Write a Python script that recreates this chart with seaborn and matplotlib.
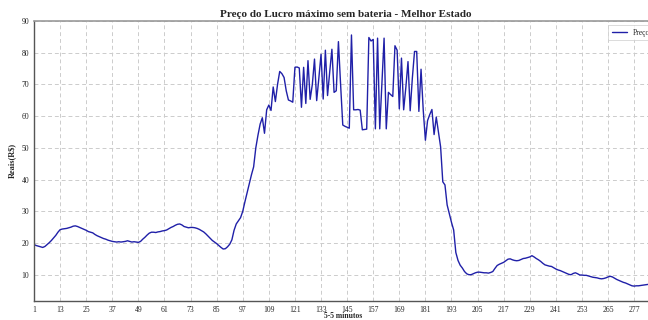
import pandas as pd
import matplotlib
matplotlib.use("Agg")
import matplotlib.pyplot as plt
import seaborn as sns

# Preço por intervalo de 5 minutos (288 intervalos no dia)
preco = [
    19.5, 19.2, 19.0, 18.8, 18.6, 18.9, 19.5, 20.1, 20.8, 21.6, 22.4, 23.4,
    24.2, 24.4, 24.5, 24.6, 24.8, 25.0, 25.3, 25.4, 25.2, 24.9, 24.6, 24.3,
    24.0, 23.6, 23.4, 23.2, 22.7, 22.3, 22.0, 21.7, 21.4, 21.2, 20.9, 20.7,
    20.5, 20.4, 20.3, 20.4, 20.3, 20.4, 20.5, 20.7, 20.5, 20.3, 20.4, 20.3,
    20.2, 20.5, 21.2, 21.8, 22.5, 23.1, 23.4, 23.4, 23.3, 23.5, 23.6, 23.8,
    23.9, 24.1, 24.5, 24.9, 25.2, 25.6, 25.9, 26.0, 25.7, 25.2, 25.0, 24.8,
    24.9, 24.9, 24.8, 24.6, 24.3, 23.9, 23.5, 22.9, 22.2, 21.5, 20.8, 20.3,
    19.8, 19.2, 18.6, 18.1, 18.2, 18.8, 19.6, 21.0, 24.0, 26.0, 27.0, 28.0,
    30.0, 33.0, 35.8, 38.5, 41.5, 44.0, 50.0, 54.0, 57.5, 59.5, 54.6, 62.0,
    63.5, 61.8, 69.2, 64.6, 70.0, 74.1, 73.4, 72.2, 68.0, 65.1, 64.8, 64.4,
    75.4, 75.5, 75.2, 62.8, 75.4, 64.0, 77.5, 65.3, 70.0, 78.0, 64.9, 72.0,
    79.5, 65.4, 80.8, 66.5, 74.0, 81.1, 67.5, 68.0, 83.5, 70.0, 57.2, 56.8,
    56.5, 56.2, 85.6, 62.0, 62.0, 62.1, 61.9, 55.7, 55.8, 55.9, 84.8, 83.7,
    84.2, 56.0, 84.6, 56.0, 70.0, 84.6, 56.0, 67.5, 66.8, 66.2, 82.2, 80.8,
    62.3, 78.3, 62.0, 69.0, 77.2, 61.7, 72.0, 80.4, 80.4, 61.5, 74.8, 62.0,
    52.4, 58.6, 60.5, 62.1, 54.2, 59.7, 55.0, 50.3, 39.3, 38.3, 32.0, 29.3,
    26.5, 24.1, 17.0, 14.5, 13.0, 12.1, 11.0, 10.3, 10.0, 10.0, 10.3, 10.6,
    10.8, 10.8, 10.7, 10.6, 10.6, 10.5, 10.7, 11.0, 12.0, 12.9, 13.3, 13.6,
    13.9, 14.4, 14.9, 15.0, 14.7, 14.5, 14.4, 14.5, 14.8, 15.1, 15.2, 15.4,
    15.6, 16.0, 15.6, 15.1, 14.7, 14.2, 13.6, 13.1, 12.9, 12.7, 12.6, 12.2,
    11.8, 11.5, 11.3, 11.0, 10.7, 10.4, 10.1, 10.0, 10.4, 10.6, 10.3, 9.9,
    9.9, 9.8, 9.8, 9.6, 9.4, 9.2, 9.1, 9.0, 8.8, 8.7, 8.8, 9.0,
    9.3, 9.5, 9.3, 8.9, 8.5, 8.2, 7.9, 7.6, 7.4, 7.1, 6.8, 6.5,
    6.4, 6.5, 6.5, 6.6, 6.7, 6.8, 6.9, 7.0, 7.1, 7.2, 7.3, 7.4,
]
intervalos = list(range(1, len(preco) + 1))
xticks = list(range(1, 289, 12))
yticks = [10, 20, 30, 40, 50, 60, 70, 80, 90]

df = pd.DataFrame({"intervalo": intervalos, "Preço": preco})

sns.set_style("white")
plt.rcParams["font.family"] = ["Liberation Serif", "DejaVu Serif"]

fig = plt.figure(figsize=(6.48, 3.2), dpi=100)
# eixo passa da borda direita (no original o gráfico aparece cortado)
ax = fig.add_axes([0.0525, 0.0603, 0.963, 0.874])

sns.lineplot(data=df, x="intervalo", y="Preço", color="#2020a8", linewidth=1.0,
             label="Preço", ax=ax)

ax.set_xlim(1, 288)
ax.set_ylim(1.8, 90)
ax.set_xticks(xticks)
ax.set_yticks(yticks)
ax.grid(True, linestyle=(0, (4, 3)), color="#cccccc", linewidth=0.7)
ax.tick_params(axis="both", labelsize=5.5, length=2.0, width=1.0, pad=1.5,
               color="#333333")

for side in ["left", "bottom"]:
    ax.spines[side].set_color("#555555")
    ax.spines[side].set_linewidth(1.0)
ax.spines["top"].set_color("#999999")
ax.spines["top"].set_linewidth(1.2)

ax.set_title("Preço do Lucro máximo sem bateria - Melhor Estado",
             fontsize=8, fontweight="bold", pad=3)
ax.set_xlabel("5-5 minutos", fontsize=5.5, fontweight="bold")
ax.xaxis.set_label_coords(0.495, -0.042)
ax.set_ylabel("Reais(R$)", fontsize=6, fontweight="bold", labelpad=4)

leg = ax.legend(loc="upper right", fontsize=5.5, frameon=True, fancybox=False,
                handlelength=2.0, borderpad=0.5)
leg.get_frame().set_edgecolor("#cccccc")
leg.get_frame().set_linewidth(0.6)

fig.savefig("out.png", dpi=100)
